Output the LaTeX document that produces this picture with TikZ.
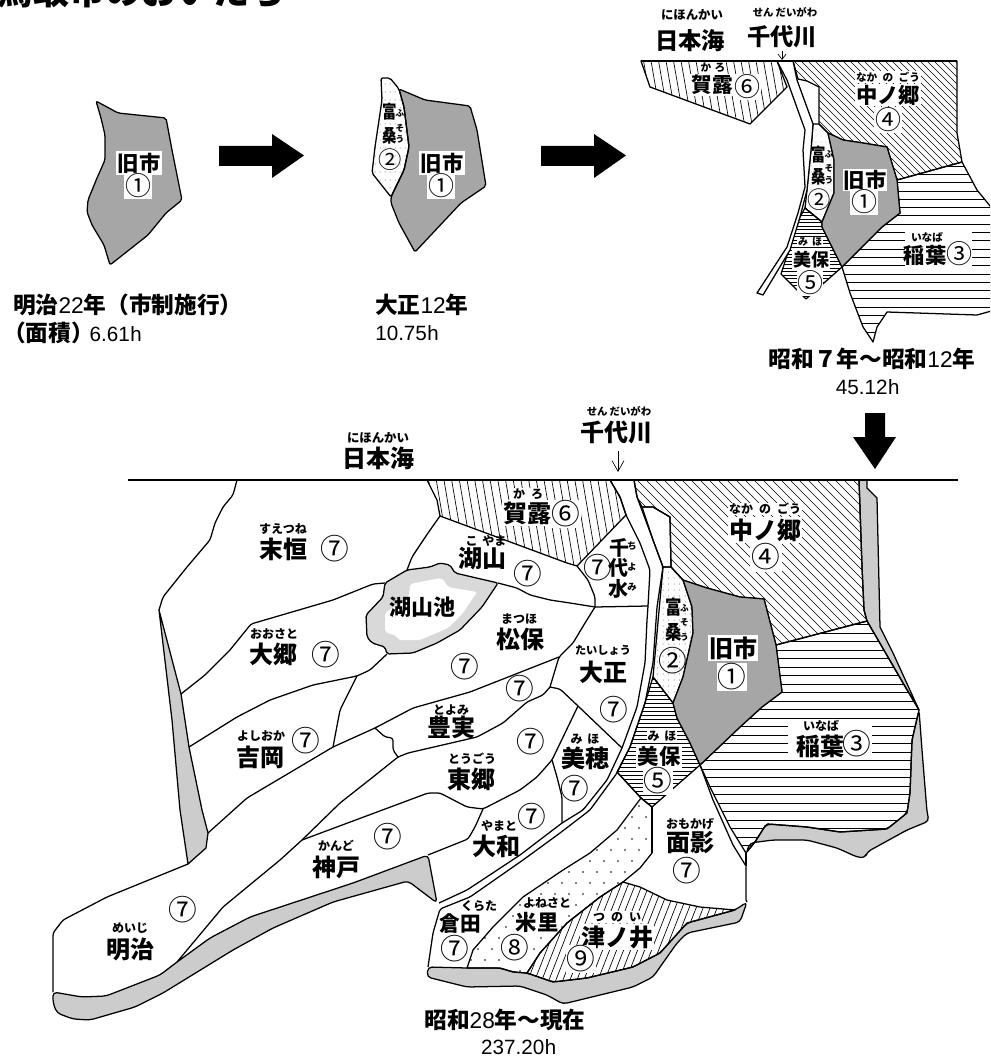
\documentclass[tikz,border=0pt]{standalone}
\usepackage{fontspec}
\usetikzlibrary{arrows.meta}
\setmainfont{Noto Sans CJK JP}
\newfontfamily\ar{Liberation Sans}
\newfontfamily\hh{Liberation Mono}
\definecolor{gcity}{HTML}{A6A6A6}
\definecolor{gsea}{HTML}{CCCCCC}
\definecolor{glake}{HTML}{D9D9D9}
\newcommand\fs[1]{\fontsize{#1}{#1}\selectfont}
\newcommand\ha{{\hh h}}
\tikzset{
 lab/.style={inner sep=0pt,font=\bfseries\fs{18pt}},
 labm/.style={inner sep=0pt,font=\bfseries\fs{15.5pt}},
 rb/.style={inner sep=0pt,font=\bfseries\fs{9pt}},
 rbn/.style={inner sep=0pt,font=\bfseries\fs{7.8pt}},
 rbw/.style={inner sep=0pt,font=\bfseries\fs{9.3pt}},
 rbs/.style={inner sep=0pt,font=\bfseries\fs{6.5pt}},
 circ/.style={inner sep=0pt,font=\fs{21.5pt}},
 circm/.style={inner sep=0pt,font=\fs{19.5pt}},
 halo/.style={fill=white,inner sep=1pt},
 captext/.style={inner sep=0pt,anchor=west,font=\fs{17pt}},
 numtext/.style={inner sep=0pt,anchor=west,font=\fs{15.5pt}},
 bline/.style={line width=.95pt,line join=round},
 hat/.style={line width=.5pt},
 fatarrow/.style={fill=black,draw=none},
}
\newcommand\bd[1]{{\bfseries #1}}
\begin{document}
\begin{tikzpicture}[x=0.75pt,y=-0.75pt]
\useasboundingbox (0,0) rectangle (990,1059);
\clip (0,0) rectangle (990,1059);

% title cut off by the page
\node[anchor=base west,inner sep=0pt,font=\bfseries\fs{27pt}] (title) at (-3,4.5) {鳥取市のおいたち};

% ---------- first stage
\def\pA{(96,101) -- (118,113) -- (166,118) -- (172,150) -- (177,175) -- (182,200) -- (166,213) -- (148,235) -- (110,265) -- (104,245) -- (92,225) -- (87,212) -- (88,200) -- (97,178) -- (105,160) -- (105,135) -- (101,118) -- cycle}
\draw[bline,fill=gcity,rounded corners=1.5pt] \pA;
\node[labm,fill=white,inner sep=1pt,font=\bfseries\fs{16pt}] (a1) at (139,163) {旧市};
\node[circm,fill=white,inner sep=1pt] (a2) at (138,186) {①};
\node[captext] (c1) at (13,305) {\bd{明治}{\ar 22}\bd{年（市制施行）}};
\node[captext] (c2) at (3,333) {\bd{（面積）}\hspace{-7.5pt}{\ar\fs{15.5pt} 6.61}{\fs{15.5pt}\ha}};

% arrows
\fill[fatarrow] (219,146) -- (272,146) -- (272,134) -- (304,155.5) -- (272,178) -- (272,166) -- (219,166) -- cycle;
\fill[fatarrow] (541,146) -- (594,146) -- (594,134) -- (626,155.5) -- (594,178) -- (594,166) -- (541,166) -- cycle;

% ---------- second stage
\def\pBb{(399,89) -- (425,100) -- (470,106) -- (477,130) -- (486,186) -- (461,203) -- (415,252) -- (399,223) -- (391,203) -- (391,197) -- (404,170) -- (409,147) -- (404,107) -- cycle}
\def\pBa{(381,78) -- (390,78) -- (399,89) -- (404,107) -- (409,147) -- (404,170) -- (391,197) -- (372,173) -- (375,147) -- (382,100) -- cycle}
\draw[bline,fill=gcity,rounded corners=1.5pt] \pBb;
\begin{scope}
\clip \pBa;
\foreach \i in {0,...,10} \foreach \j in {0,...,15} \fill[black!70] (370+\i*5,76+\j*8) circle (0.5);
\end{scope}
\draw[bline,rounded corners=1.5pt] \pBa;
\node[labm,fill=white,inner sep=1pt,font=\bfseries\fs{16pt}] (b1) at (442,163) {旧市};
\node[circm,fill=white,inner sep=1pt] (b2) at (441,186) {①};
\node[lab,xscale=.8,font=\bfseries\fs{13.5pt}] (b3) at (390,112) {富};
\node[lab,xscale=.8,font=\bfseries\fs{13.5pt}] (b4) at (390,136) {桑};
\node[rbs] (b5) at (400,113) {ふ};
\node[rbs] (b6) at (400,128) {そ};
\node[rbs] (b7) at (400,139) {う};
\node[circm,font=\fs{17.5pt}] (b8) at (390,160) {②};
\node[captext] (c3) at (375,305) {\bd{大正}{\ar 12}\bd{年}};
\node[numtext] (c4) at (375,333) {{\ar 10.75}\ha};

% ---------- third stage (top right)
\def\tKa{(641,61) -- (777,61) -- (787,87) -- (750,124) -- (650,87) -- cycle}
\begin{scope}
\clip \tKa;
\foreach \x in {620,627.5,...,800} \draw[hat] (\x,55) -- (\x+13,130);
\end{scope}
\draw[bline] \tKa;
\def\tNa{(793,61) -- (957,61) -- (957,133) -- (962,162) -- (897,180) -- (887,147) -- (863,143) -- (843,140) -- (828,133) -- (819,124) -- (819,87) -- (807,81) -- (798,79) -- cycle}
\begin{scope}
\clip \tNa;
\foreach \x in {620,627,...,960} \draw[hat] (\x,55) -- (\x+140,195);
\end{scope}
\draw[bline] \tNa;
\def\tIn{(897,180) -- (962,162) -- (977,190) -- (995,212) -- (995,310) -- (977,315) -- (887,312) -- (877,327) -- (873,342) -- (863,327) -- (850,293) -- (842,267) -- (882,227) -- (900,213) -- cycle}
\begin{scope}
\clip \tIn;
\foreach \y in {166,174.3,...,345} \draw[hat] (830,\y) -- (995,\y);
\end{scope}
\draw[bline] \tIn;
\fill[white] (905,231) rectangle (972,266);
\def\tMi{(805,208) -- (822,222) -- (822,227) -- (830,243) -- (842,267) -- (806,299) -- (781,274) -- (792,240) -- (800,217) -- cycle}
\begin{scope}
\clip \tMi;
\foreach \y in {205,208.5,...,300} \draw[hat] (775,\y) -- (845,\y);
\end{scope}
\draw[bline] \tMi;
\def\tFu{(813,124) -- (819,124) -- (828,133) -- (834,160) -- (834,193) -- (822,222) -- (805,208) -- (807,190) -- (811,150) -- cycle}
\begin{scope}
\clip \tFu;
\foreach \i in {0,...,6} \foreach \j in {0,...,16} \fill[black!70] (806+\i*5,124+\j*6) circle (0.45);
\end{scope}
\draw[bline] \tFu;
\draw[bline,fill=gcity] (828,133) -- (843,140) -- (863,143) -- (887,147) -- (897,180) -- (900,213) -- (882,227) -- (842,267) -- (830,243) -- (822,227) -- (822,222) -- (834,193) -- (834,160) -- cycle;
% river
\draw[bline,fill=white] (777,61) -- (787,80) -- (805,130) -- (803,150) -- (805,187) -- (798,213) -- (787,247) -- (757,293) -- (763,295) -- (790,250) -- (800,217) -- (807,190) -- (811,150) -- (813,124) -- (797,80) -- (793,61);
\draw[line width=1.1pt] (641,61) -- (957,61);
% labels
\node[lab,font=\bfseries\fs{17.5pt}] (t1) at (690,41) {日本海};
\node[rbw] (t2) at (692,15) {にほんかい};
\node[lab,font=\bfseries\fs{17.5pt}] (t3) at (782,37) {千代川};
\node[rbn] (t4) at (785,12) {せん\hspace{.2em}だいがわ};
\coordinate (t5a) at (782,51); \coordinate (t5b) at (782,60);
\draw[-{Straight Barb[length=4pt,width=6pt]},line width=.5pt] (t5a) -- (t5b);
\node[rb,font=\bfseries\fs{8pt},fill=white,inner sep=.5pt] (t6) at (713,68) {か\hspace{.3em}ろ};
\node[labm,halo] (t7) at (712,85) {賀露};
\node[circm,fill=white,inner sep=.5pt] (t8) at (747,87) {⑥};
\node[rb,font=\bfseries\fs{8pt},fill=white,inner sep=.5pt] (t9) at (888,77) {なか\hspace{.5em}の\hspace{.5em}ごう};
\node[lab,halo,font=\bfseries\fs{16pt}] (t10) at (888,95) {中ノ郷};
\node[circm,halo] (t11) at (888,120) {④};
\node[labm,halo,font=\bfseries\fs{16pt},inner sep=.5pt] (t12) at (865,180) {旧市};
\node[circm,fill=white,inner sep=.5pt] (t13) at (864,202) {①};
\node[lab,xscale=.8,font=\bfseries\fs{13.5pt}] (t14) at (819,155) {富};
\node[lab,xscale=.8,font=\bfseries\fs{13.5pt}] (t15) at (819,177) {桑};
\node[rbs] (t16) at (829,154) {ふ};
\node[rbs] (t17) at (829,168) {そ};
\node[rbs] (t18) at (829,180) {う};
\node[circm,font=\fs{17.5pt}] (t19) at (819,200) {②};
\node[rb,fill=white,inner sep=.5pt,font=\bfseries\fs{8pt}] (t20) at (927,237) {いなば};
\node[lab,font=\bfseries\fs{16pt}] (t21) at (925,255) {稲葉};
\node[circm] (t22) at (959,254) {③};
\node[rb,fill=white,inner sep=.5pt,font=\bfseries\fs{7.5pt}] (t23) at (810,242) {み\hspace{.4em}ほ};
\node[labm,halo,font=\bfseries\fs{13.5pt}] (t24) at (811,260) {美保};
\node[circm,halo,inner sep=.3pt] (t25) at (810,283) {⑤};
\node[inner sep=0pt,font=\fs{17pt}] (c5) at (872,359) {\bd{昭和７年～昭和}{\ar 12}\bd{年}};
\node[inner sep=0pt,font=\fs{15.5pt}] (c6) at (868,387) {{\ar 45.12}\ha};

% ---------- main map
% sea strips
\draw[bline,fill=gsea] (859,480) -- (867,480) -- (867,488) -- (877,498) -- (880,627) -- (893,653) -- (919,710) -- (903,683) -- (867,621) -- (864,610) -- (862,567) -- cycle;
\draw[bline,fill=gsea,rounded corners=3pt] (919,710) -- (922,750) -- (927,812) -- (929,821) -- (907,830) -- (867,852) -- (865,858) -- (857,857) -- (837,848) -- (807,840) -- (773,840) -- (750,843) -- (746,853) -- (755,842) -- (765,826) -- (768,824) -- (807,827) -- (840,832) -- (887,829) -- (907,813) -- (910,793) -- (912,740) -- cycle;
\draw[bline,fill=gsea] (159,610) -- (181,694) -- (189,747) -- (202,810) -- (208,833) -- (206,848) -- (188,864) -- (180,810) -- (172,720) -- cycle;
\draw[bline,fill=gsea,rounded corners=3pt] (177,962) -- (210,938) -- (250,917) -- (353,883) -- (428,855) -- (437,903) -- (408,881) -- (333,902) -- (273,928) -- (233,950) -- (163,993) -- (135,1007) -- (90,1020) -- (73,1019) -- (57,1013) -- (53,1003) -- (53,992) -- (82,997) -- (106,996) -- (160,975) -- cycle;
\draw[bline,fill=gsea,rounded corners=3pt] (428,967) -- (427,977) -- (467,987) -- (520,986) -- (547,995) -- (563,1004) -- (600,995) -- (633,987) -- (653,977) -- (677,943) -- (687,933) -- (740,922) -- (747,902) -- (735,910) -- (687,923) -- (660,953) -- (633,967) -- (587,978) -- (553,982) -- (527,973) -- (513,972) -- (500,968) -- (467,968) -- cycle;

% 賀露
\def\mKa{(427,480) -- (610,480) -- (620,497) -- (626,515) -- (577,566) -- (567,563) -- (440,516) -- (437,500) -- cycle}
\begin{scope}
\clip \mKa;
\foreach \x in {420,427.7,...,640} \draw[hat] (\x,475) -- (\x+17,575);
\end{scope}
\draw[bline] \mKa;
% 中ノ郷
\def\mNa{(634,480) -- (859,480) -- (862,567) -- (864,610) -- (867,621) -- (776,645) -- (764,599) -- (740,597) -- (707,588) -- (683,580) -- (671,567) -- (670,517) -- (653,507) -- (642,507) -- (637,497) -- cycle}
\begin{scope}
\clip \mNa;
\foreach \x in {470,479,...,870} \draw[hat] (\x,475) -- (\x+175,650);
\end{scope}
\draw[bline] \mNa;
% 稲葉
\def\mIn{(776,645) -- (867,621) -- (903,683) -- (919,710) -- (912,740) -- (910,793) -- (907,813) -- (887,829) -- (840,832) -- (807,827) -- (768,824) -- (765,826) -- (755,842) -- (746,853) -- (730,827) -- (710,787) -- (700,765) -- (740,727) -- (762,707) -- (782,692) -- cycle}
\begin{scope}
\clip \mIn;
\foreach \y in {624.5,633,...,860} \draw[hat] (690,\y) -- (925,\y);
\end{scope}
\draw[bline] \mIn;
\fill[white] (788,722) rectangle (872,757);
% 美保
\def\mMi{(653,677) -- (673,703) -- (677,718) -- (690,743) -- (700,765) -- (652,807) -- (641,798) -- (617,772) -- (630,747) -- (645,703) -- cycle}
\begin{scope}
\clip \mMi;
\foreach \y in {675,679,...,810} \draw[hat] (610,\y) -- (705,\y);
\end{scope}
\draw[bline] \mMi;
% 富桑
\def\mFu{(663,567) -- (671,567) -- (683,580) -- (692,607) -- (693,633) -- (683,677) -- (673,703) -- (653,677) -- (657,633) -- cycle}
\begin{scope}
\clip \mFu;
\foreach \i in {0,...,8} \foreach \j in {0,...,23} \fill[black!70] (652+\i*5.5,566+\j*6) circle (0.5);
\end{scope}
\draw[bline] \mFu;
% 旧市
\draw[bline,fill=gcity] (683,580) -- (707,588) -- (740,597) -- (764,599) -- (776,645) -- (782,692) -- (762,707) -- (740,727) -- (700,765) -- (690,743) -- (677,718) -- (673,703) -- (683,677) -- (693,633) -- (692,607) -- cycle;
% white block
\draw[bline] (642,507) -- (653,507) -- (670,517) -- (671,567) -- (663,567) -- (653,540) -- cycle;
% 米里
\def\mYo{(641,798) -- (652,807) -- (652,853) -- (640,868) -- (623,882) -- (600,897) -- (567,923) -- (540,953) -- (527,973) -- (513,972) -- (500,968) -- (467,968) -- (473,950) -- (493,927) -- (523,897) -- (563,870) -- (590,853) -- (617,830) -- cycle}
\begin{scope}
\clip \mYo;
\foreach \j in {0,...,16} \foreach \i in {0,...,15} \fill ({450+\i*14+7*mod(\j,2)},{795+\j*11}) circle (0.8);
\end{scope}
\draw[bline] \mYo;
% 津ノ井
\def\mTs{(623,882) -- (640,887) -- (667,900) -- (700,907) -- (735,910) -- (687,923) -- (660,953) -- (633,967) -- (587,978) -- (553,982) -- (527,973) -- (540,953) -- (567,923) -- (600,897) -- cycle}
\begin{scope}
\clip \mTs;
\foreach \x in {510,517,...,760} \draw[hat] (\x,990) -- (\x+45,875);
\end{scope}
\draw[bline] \mTs;
% 面影
\draw[bline] (700,765) -- (713,800) -- (733,845) -- (746,866) -- (746,900) -- (747,902);
\draw[bline] (746,853) -- (746,866);
% lake
\draw[bline,fill=glake,rounded corners=1.5pt] (407,570) -- (430,567) -- (440,563) -- (450,565) -- (455,573) -- (498,583) -- (482,607) -- (460,630) -- (437,643) -- (413,653) -- (387,654) -- (385,647) -- (372,643) -- (367,637) -- (366,615) -- (383,597) -- (385,583) -- cycle;
\fill[white,rounded corners=1.5pt] (410,584) -- (430,580) -- (442,578) -- (448,587) -- (477,592) -- (463,613) -- (448,628) -- (420,640) -- (398,640) -- (397,636) -- (385,632) -- (385,613) -- (400,603) -- (409,597) -- cycle;

% boundaries
\begin{scope}[bline,rounded corners=2pt]
\draw (237,480) -- (233,495) -- (223,507) -- (215,523) -- (210,540) -- (187,567) -- (163,597) -- (159,610);
\draw (440,516) -- (428,533) -- (412,557) -- (407,570);
\draw (385,583) -- (373,584) -- (333,600) -- (251,624) -- (230,650) -- (205,675) -- (181,694);
\draw (189,747) -- (237,717) -- (270,700) -- (313,685) -- (357,676) -- (370,670) -- (387,654);
\draw (577,566) -- (588,580) -- (595,597) -- (595,607);
\draw (498,583) -- (517,588) -- (530,595) -- (550,600) -- (570,603) -- (595,607) -- (648,606);
\draw (595,607) -- (585,623) -- (573,643) -- (559,657) -- (550,687);
\draw (559,657) -- (470,692) -- (413,708) -- (375,728) -- (333,747) -- (247,798) -- (208,833);
\draw (357,676) -- (340,710) -- (333,747);
\draw (375,728) -- (385,737) -- (393,738) -- (393,750) -- (398,757);
\draw (550,687) -- (543,695) -- (527,702) -- (503,723) -- (477,737) -- (408,753) -- (398,757) -- (373,777) -- (340,803) -- (302,840) -- (280,860) -- (223,907) -- (177,962);
\draw (302,840) -- (428,793) -- (440,793) -- (467,807) -- (483,809) -- (520,790) -- (537,777) -- (552,760) -- (578,706);
\draw (550,687) -- (560,689) -- (578,706) -- (622,748);
\draw (552,760) -- (557,777) -- (562,797) -- (562,823);
\draw (483,809) -- (475,827) -- (468,839) -- (428,855);
\draw (188,864) -- (107,897) -- (63,920) -- (53,933) -- (53,992);
\draw (617,772) -- (641,798);
\draw (652,853) -- (652,807);
% river banks
\draw (610,480) -- (620,497) -- (626,515) -- (640,543) -- (650,570) -- (648,606) -- (647,620) -- (645,663) -- (637,707) -- (622,748) -- (607,780) -- (583,810) -- (562,823) -- (520,855) -- (467,890) -- (439,903);
\draw (634,480) -- (637,497) -- (653,540) -- (663,567) -- (657,607) -- (653,663) -- (645,703) -- (630,747) -- (617,773) -- (590,810) -- (560,833) -- (523,860) -- (470,897) -- (440,909) -- (433,933) -- (428,967);
\end{scope}
\draw[line width=.8pt] (128,480) -- (958,480);

% labels
\node[lab] (m1) at (378,458) {日本海};
\node[rbw] (m2) at (378,438) {にほんかい};
\node[lab] (m3) at (616,432) {千代川};
\node[rbn] (m4) at (619,411) {せん\hspace{.2em}だいがわ};
\coordinate (m5a) at (618,451); \coordinate (m5b) at (618,472);
\draw[-{Straight Barb[length=8pt,width=9pt]},line width=.5pt] (m5a) -- (m5b);
\fill[fatarrow] (865,413) -- (885,413) -- (885,437) -- (896,437) -- (875,469) -- (853,437) -- (865,437) -- cycle;
\node[rb,fill=white,inner sep=.5pt] (m6) at (528,494) {か\hspace{.5em}ろ};
\node[lab,halo] (m7) at (527,513) {賀露};
\node[circ,halo,inner sep=.3pt] (m8) at (566,514) {⑥};
\node[rb,fill=white,inner sep=.5pt] (m9) at (765,509) {なか\hspace{.5em}の\hspace{.5em}ごう};
\node[lab,halo] (m10) at (765,530) {中ノ郷};
\node[circ,halo] (m11) at (766,557) {④};
\node[rb] (m12) at (283,529) {すえつね};
\node[lab] (m13) at (283,549) {末恒};
\node[circ] (m14) at (335,549) {⑦};
\node[rb] (m15) at (486,541) {こ\hspace{.4em}やま};
\node[lab] (m16) at (482,559) {湖山};
\node[circ] (m17) at (528,574) {⑦};
\node[lab,font=\bfseries\fs{16.5pt}] (m18) at (422,607) {湖山池};
\node[rb] (m19) at (519,619) {まつほ};
\node[lab] (m20) at (520,639) {松保};
\node[circ] (m21) at (465,667) {⑦};
\node[rb] (m22) at (274,634) {おおさと};
\node[lab] (m23) at (273,654) {大郷};
\node[circ] (m24) at (326,655) {⑦};
\node[circ] (m25) at (520,689) {⑦};
\node[rb] (m26) at (451,710) {とよみ};
\node[lab] (m27) at (451,727) {豊実};
\node[circ] (m28) at (531,742) {⑦};
\node[rb] (m29) at (261,736) {よしおか};
\node[lab] (m30) at (260,757) {吉岡};
\node[circ] (m31) at (306,741) {⑦};
\node[lab,font=\bfseries\fs{15pt}] (m32) at (619,548) {千};
\node[lab,font=\bfseries\fs{15pt}] (m33) at (618,568) {代};
\node[lab,font=\bfseries\fs{15pt}] (m34) at (618,589) {水};
\node[rbs,font=\bfseries\fs{7pt}] (m35) at (632,546) {ち};
\node[rbs,font=\bfseries\fs{7pt}] (m36) at (632,567) {よ};
\node[rbs,font=\bfseries\fs{7pt}] (m37) at (632,587) {み};
\node[circ] (m38) at (598,568) {⑦};
\node[rb,font=\bfseries\fs{8.4pt}] (m39) at (603,650) {たいしょう};
\node[lab] (m40) at (603,672) {大正};
\node[circ] (m41) at (614,710) {⑦};
\node[lab,xscale=.85,font=\bfseries\fs{14.5pt}] (m42) at (674,607) {富};
\node[lab,xscale=.85,font=\bfseries\fs{14.5pt}] (m43) at (674,632) {桑};
\node[rbs] (m44) at (684.5,608) {ふ};
\node[rbs] (m45) at (684.5,622) {そ};
\node[rbs] (m46) at (684.5,637) {う};
\node[circ] (m47) at (673,661) {②};
\node[lab,halo,inner sep=1pt] (m48) at (733,648) {旧市};
\node[circ,fill=white,inner sep=.5pt] (m49) at (732,677) {①};
\node[rb] (m50) at (821,726) {いなば};
\node[lab] (m51) at (820,746) {稲葉};
\node[circ] (m52) at (857,744) {③};
\node[rb,fill=white,inner sep=.5pt] (m53) at (662,736) {み\hspace{.4em}ほ};
\node[lab,halo,font=\bfseries\fs{16pt}] (m54) at (659,756) {美保};
\node[circ,halo,inner sep=.3pt] (m55) at (658,781) {⑤};
\node[rb] (m56) at (585,739) {み\hspace{.4em}ほ};
\node[lab] (m57) at (585,758) {美穂};
\node[circ] (m58) at (575,789) {⑦};
\node[rb] (m59) at (472,759) {とうごう};
\node[lab] (m60) at (471,779) {東郷};
\node[rb] (m61) at (499,826) {やまと};
\node[lab] (m62) at (496,846) {大和};
\node[circ] (m63) at (532,817) {⑦};
\node[rb] (m64) at (690,824) {おもかげ};
\node[lab] (m65) at (690,843) {面影};
\node[circ] (m66) at (687,871) {⑦};
\node[rb] (m67) at (479,906) {くらた};
\node[lab,font=\bfseries\fs{15.5pt}] (m68) at (460,924) {倉田};
\node[circ] (m69) at (455,949) {⑦};
\node[rb] (m70) at (547,903) {よねさと};
\node[lab,font=\bfseries\fs{16pt}] (m71) at (537,922) {米里};
\node[circ,fill=white,inner sep=.3pt] (m72) at (515,948) {⑧};
\node[rb,fill=white,inner sep=.5pt] (m73) at (617,917) {つ\hspace{.5em}の\hspace{.5em}い};
\node[lab,halo] (m74) at (617,937) {津ノ井};
\node[circ,halo,inner sep=.3pt] (m75) at (581,959) {⑨};
\node[rb] (m76) at (336,846) {かんど};
\node[lab] (m77) at (336,867) {神戸};
\node[circ] (m78) at (388,837) {⑦};
\node[rb] (m79) at (130,928) {めいじ};
\node[lab] (m80) at (130,949) {明治};
\node[circ] (m81) at (183,910) {⑦};
\node[inner sep=0pt,font=\fs{17pt}] (c7) at (505,1020) {\bd{昭和}{\ar 28}\bd{年～現在}};
\node[inner sep=0pt,font=\fs{15.5pt}] (c8) at (519,1047) {{\ar 237.20}\ha};
\end{tikzpicture}
\end{document}
